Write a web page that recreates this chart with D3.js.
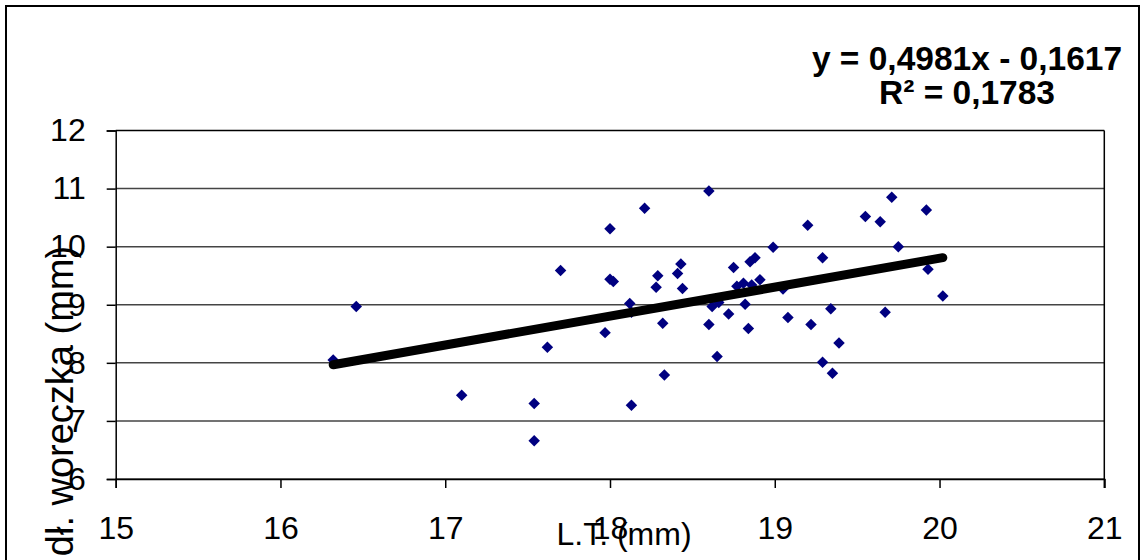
<!DOCTYPE html>
<html>
<head>
<meta charset="utf-8">
<script src="https://cdn.jsdelivr.net/npm/d3@7"></script>
<style>
  html, body { margin: 0; padding: 0; background: #fff; }
  svg { display: block; font-family: Arial, "Liberation Sans", sans-serif; }
</style>
</head>
<body>
<svg id="chart" width="1141" height="560"></svg>
<script>
// Body length L.T. (mm) of each specimen
const ltValues = [
  16.32, 16.46, 17.10, 17.54, 17.54, 17.62, 17.70, 18.00, 18.21, 18.00,
  18.02, 17.97, 18.12, 18.13, 18.13, 18.29, 18.28, 18.32, 18.33, 18.43,
  18.41, 18.44, 18.60, 18.62, 18.66, 18.60, 18.65, 18.72, 18.75, 18.77,
  18.81, 18.82, 18.84, 18.85, 18.88, 18.86, 18.91, 18.99, 19.05, 19.08,
  19.20, 19.22, 19.29, 19.29, 19.34, 19.35, 19.39, 19.55, 19.64, 19.71,
  19.75, 19.67, 19.92, 19.93, 20.02
];
// Sac length "dł. woreczka" (mm) of the same specimens
const sacValues = [
  8.05, 8.97, 7.44, 7.30, 6.66, 8.27, 9.59, 10.31, 10.66, 9.44,
  9.40, 8.52, 9.02, 8.87, 7.27, 9.50, 9.30, 8.68, 7.79, 9.70,
  9.54, 9.28, 10.96, 8.97, 9.04, 8.66, 8.11, 8.84, 9.64, 9.32,
  9.37, 9.01, 8.59, 9.74, 9.81, 9.34, 9.43, 9.99, 9.27, 8.78,
  10.37, 8.66, 9.81, 8.01, 8.93, 7.82, 8.34, 10.52, 10.43, 10.85,
  10.00, 8.87, 10.63, 9.61, 9.15
];
// Linear trend y = slope * x + intercept
const slope = 0.4981;
const intercept = -0.1617;
const rSquared = "0,1783";

const xTicks = [15, 16, 17, 18, 19, 20, 21];
const yTicks = [6, 7, 8, 9, 10, 11, 12];

const xTitle = "L.T. (mm)";
const yTitle = "dł. woreczka (mm)";
const eqText = "y = 0,4981x - 0,1617";

const svg = d3.select("#chart");

// outer frame
svg.append("rect")
  .attr("x", 6).attr("y", 6)
  .attr("width", 1133).attr("height", 570)
  .attr("fill", "none").attr("stroke", "#000").attr("stroke-width", 2);

const plotLeft = 115.7, plotRight = 1104.3, plotTop = 130.5, plotBottom = 479;

const x = d3.scaleLinear().domain([15, 21]).range([plotLeft, plotRight]);
const y = d3.scaleLinear().domain([6, 12]).range([plotBottom, plotTop]);

// horizontal gridlines
svg.append("g")
  .selectAll("line")
  .data(yTicks)
  .join("line")
  .attr("x1", plotLeft).attr("x2", plotRight)
  .attr("y1", d => y(d)).attr("y2", d => y(d))
  .attr("stroke", d => d === 12 ? "#000" : "#444")
  .attr("stroke-width", 1.5);

// plot area right edge
svg.append("line")
  .attr("x1", plotRight).attr("x2", plotRight)
  .attr("y1", plotTop).attr("y2", plotBottom + 9)
  .attr("stroke", "#000").attr("stroke-width", 1.5);

// x axis
const xAxis = svg.append("g")
  .attr("transform", `translate(0,${plotBottom})`)
  .call(d3.axisBottom(x).tickValues(xTicks).tickSize(9).tickPadding(28).tickFormat(d3.format("d")));
xAxis.select(".domain").attr("stroke", "#000").attr("stroke-width", 1.5);
xAxis.selectAll(".tick line").attr("stroke", "#000").attr("stroke-width", 1.5);
xAxis.selectAll(".tick text")
  .attr("font-size", 32).attr("fill", "#000")
  .attr("font-family", "Arial, 'Liberation Sans', sans-serif");

// y axis
const yAxis = svg.append("g")
  .attr("transform", `translate(${plotLeft},0)`)
  .call(d3.axisLeft(y).tickValues(yTicks).tickSize(9).tickPadding(21).tickFormat(d3.format("d")));
yAxis.select(".domain").attr("stroke", "#000").attr("stroke-width", 1.5);
yAxis.selectAll(".tick line").attr("stroke", "#000").attr("stroke-width", 1.5);
yAxis.selectAll(".tick text")
  .attr("font-size", 32).attr("fill", "#000")
  .attr("font-family", "Arial, 'Liberation Sans', sans-serif");

// data points as diamonds
const pts = ltValues.map((v, i) => ({ lt: v, sac: sacValues[i] }));
svg.append("g")
  .selectAll("path")
  .data(pts)
  .join("path")
  .attr("d", d3.symbol(d3.symbolSquare, 66))
  .attr("transform", d => `translate(${x(d.lt)},${y(d.sac)}) rotate(45)`)
  .attr("fill", "#000080");

// trend line over the data range
const xMin = d3.min(ltValues), xMax = d3.max(ltValues);
svg.append("line")
  .attr("x1", x(xMin)).attr("y1", y(slope * xMin + intercept))
  .attr("x2", x(xMax)).attr("y2", y(slope * xMax + intercept))
  .attr("stroke", "#000").attr("stroke-width", 9)
  .attr("stroke-linecap", "round");

// axis titles
svg.append("text")
  .attr("x", 624).attr("y", 545)
  .attr("text-anchor", "middle")
  .attr("font-size", 32)
  .text(xTitle);

svg.append("text")
  .attr("transform", "translate(73,401) rotate(-90)")
  .attr("text-anchor", "middle")
  .attr("font-size", 38)
  .text(yTitle);

// regression equation
svg.append("text")
  .attr("x", 967).attr("y", 70)
  .attr("text-anchor", "middle")
  .attr("font-size", 33.5).attr("font-weight", "bold")
  .text(eqText);
svg.append("text")
  .attr("x", 967).attr("y", 104)
  .attr("text-anchor", "middle")
  .attr("font-size", 33.5).attr("font-weight", "bold")
  .text("R² = " + rSquared);
</script>
</body>
</html>
